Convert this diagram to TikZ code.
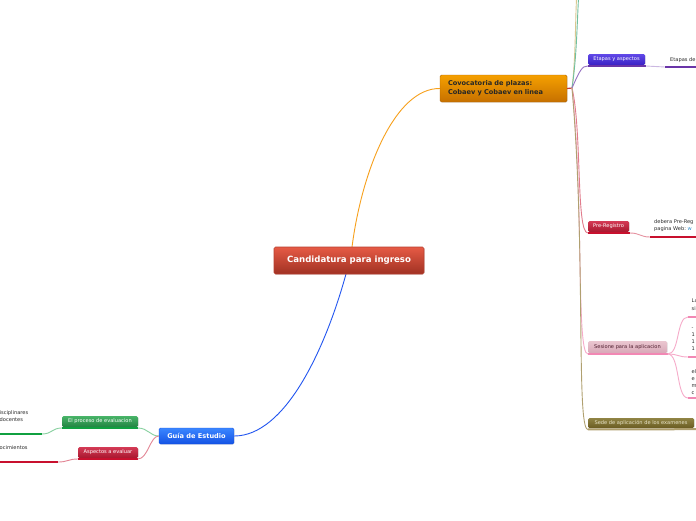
\documentclass[tikz,border=0pt]{standalone}
\usepackage{fontspec}
\setmainfont{DejaVu Sans}
\usetikzlibrary{shadows}
\definecolor{cenTop}{HTML}{E65A45}\definecolor{cenBot}{HTML}{A03223}\definecolor{cenBd}{HTML}{B84030}
\definecolor{convTop}{HTML}{F5A000}\definecolor{convBot}{HTML}{C67000}
\definecolor{etTop}{HTML}{6048E8}\definecolor{etBot}{HTML}{3A22C4}\definecolor{etLn}{HTML}{6A35A8}
\definecolor{prTop}{HTML}{D43A55}\definecolor{prBot}{HTML}{A8182F}\definecolor{prLn}{HTML}{C8102E}
\definecolor{seTop}{HTML}{EAC6D0}\definecolor{seBot}{HTML}{D8A8B8}\definecolor{seLn}{HTML}{F288B4}\definecolor{seTx}{HTML}{502030}
\definecolor{sdTop}{HTML}{908444}\definecolor{sdBot}{HTML}{6A5C22}\definecolor{sdLn}{HTML}{B0A070}\definecolor{sdTx}{HTML}{E8E4C8}
\definecolor{guTop}{HTML}{3A86FF}\definecolor{guBot}{HTML}{1452E4}
\definecolor{pcTop}{HTML}{48B468}\definecolor{pcBot}{HTML}{228442}\definecolor{pcLn}{HTML}{10A040}
\definecolor{orangeLn}{HTML}{F7A01C}\definecolor{blueLn}{HTML}{2255F0}
\definecolor{greenUp}{HTML}{70C0A0}\definecolor{yellowUp}{HTML}{D8C890}
\definecolor{txtGray}{HTML}{2A2A2A}\definecolor{webBlue}{HTML}{3090D0}
\tikzset{
  box/.style={rounded corners=1.5pt, inner sep=0pt, align=center, drop shadow={opacity=0.25, shadow xshift=0.6pt, shadow yshift=-0.6pt}},
  smallbox/.style={box, font=\fontsize{5.1}{6}\selectfont},
  uline/.style={line width=2pt},
  conn/.style={line width=0.9pt},
  leaf/.style={inner sep=0pt, anchor=north west, align=left, text=txtGray, font=\fontsize{5.1}{7.2}\selectfont}
}
\begin{document}
\begin{tikzpicture}[x=1pt,y=-1pt]
\useasboundingbox[fill=white] (0,0) rectangle (696,520);

% main connectors
\coordinate (cTop) at (352,247);
\coordinate (cBot) at (346,274);
\node[box, minimum width=127pt, minimum height=27pt, text width=111pt, align=left, top color=convTop, bottom color=convBot, draw=convBot!90!black, line width=0.4pt, font=\bfseries\fontsize{6.6}{9}\selectfont, text=black!85] (conv) at (503.5,88.5) {Covocatoria de plazas:\\Cobaev y Cobaev en linea};
\node[box, minimum width=75pt, minimum height=16pt, top color=guTop, bottom color=guBot, draw=guBot, line width=0.4pt, font=\bfseries\fontsize{6.6}{8}\selectfont, text=white] (guia) at (196.5,436) {Guía de Estudio};

\draw[conn, orangeLn] (cTop) .. controls (362,170) and (395,88) .. (conv.west);
\draw[conn, blueLn] (cBot) .. controls (325,350) and (285,436) .. (guia.east);

\node[box, minimum width=150pt, minimum height=27pt, top color=cenTop, bottom color=cenBot, draw=cenBd, line width=0.6pt, font=\bfseries\fontsize{8.6}{10}\selectfont, text=white] (center) at (349,260.5) {Candidatura para ingreso};

% right side children
\coordinate (hub) at (572,88);
\draw[line width=1.2pt, prLn!60!brown] (conv.east) -- (hub);
\coordinate (upA) at (577,-10);
\coordinate (upB) at (579,-10);
\draw[conn, yellowUp] (hub) .. controls (576,55) and (575,20) .. (upA);
\draw[conn, greenUp] (hub) .. controls (577,55) and (577,20) .. (upB);

\node[smallbox, minimum width=57pt, minimum height=11pt, top color=etTop, bottom color=etBot, text=white] (etapas) at (616.5,59.5) {Etapas y aspectos};
\draw[uline, etLn] (etapas.south west) ++(0,0.8) -- ++(58,0) coordinate (etEnd);
\draw[conn, etLn!70!white] (hub) .. controls (580,70) and (582,66) .. ([yshift=-0.8pt]etapas.south west);
\coordinate (etLeaf) at (665,67);
\draw[conn, etLn!35!white] (etEnd) -- (etLeaf);
\draw[uline, etLn] (etLeaf) -- (697,67);
\node[leaf] (etTxt) at (670,57) {Etapas de};

\node[smallbox, minimum width=41pt, minimum height=11pt, top color=prTop, bottom color=prBot, text=white] (pre) at (608.5,226.5) {Pre-Registro};
\draw[uline, prLn] (pre.south west) ++(0,0.8) -- ++(42,0) coordinate (prEnd);
\draw[conn, prLn!55!white] (hub) .. controls (582,130) and (576,233) .. ([yshift=-0.8pt]pre.south west);
\coordinate (prLeaf) at (650,237);
\draw[conn, prLn!45!white] (prEnd) .. controls (640,233) and (640,237) .. (prLeaf);
\draw[uline, prLn] (prLeaf) -- (697,237);
\node[leaf] (prTxt) at (654,219.5) {debera Pre-Reg\\pagina Web:\ \textcolor{webBlue}{w}};

\node[smallbox, minimum width=79pt, minimum height=12pt, top color=seTop, bottom color=seBot, text=seTx] (ses) at (627.5,347) {Sesione para la aplicacion};
\draw[uline, seLn] (ses.south west) ++(0,0.8) -- ++(80,0) coordinate (seEnd);
\draw[conn, seLn!70!white] (hub) .. controls (584,200) and (576,354) .. ([yshift=-0.8pt]ses.south west);
\coordinate (seA) at (688,317);
\coordinate (seB) at (688,357);
\coordinate (seC) at (688,398);
\draw[conn, seLn!70!white] (seEnd) .. controls (680,354) and (676,317) .. (seA);
\draw[conn, seLn!70!white] (seEnd) .. controls (678,354) and (678,357) .. (seB);
\draw[conn, seLn!70!white] (seEnd) .. controls (680,354) and (676,398) .. (seC);
\draw[uline, seLn] (seA) -- (697,317);
\draw[uline, seLn] (seB) -- (697,357);
\draw[uline, seLn] (seC) -- (697,398);
\node[leaf] (seTa) at (691.5,299) {La\\si};
\node[leaf] (seTb) at (691.5,327.5) {-\\1\\1\\1};
\node[leaf] (seTc) at (691.5,369) {el\\e\\m\\c};

\node[smallbox, minimum width=106pt, minimum height=10pt, top color=sdTop, bottom color=sdBot, text=sdTx] (sede) at (641,423) {Sede de aplicación de los examenes};
\draw[uline, sdLn] (sede.south west) ++(0,1.2) -- (697,429.2);
\draw[conn, sdLn] (hub) .. controls (586,250) and (576,429) .. ([yshift=-1.2pt]sede.south west);

% left side children
\node[smallbox, minimum width=76pt, minimum height=11pt, top color=pcTop, bottom color=pcBot, text=white] (proc) at (100,421.5) {El proceso de evaluacion};
\draw[uline, pcLn] (proc.south west) ++(0,0.8) -- ++(76,0) coordinate (pcEnd);
\draw[conn, pcLn!50!white] (guia.west) .. controls (150,436) and (148,428) .. (pcEnd);
\coordinate (pcLeaf) at (42,434);
\draw[conn, pcLn!50!white] ([yshift=-0.8pt]proc.south west) .. controls (52,428) and (52,434) .. (pcLeaf);
\draw[uline, pcLn] (pcLeaf) -- (-1,434);
\node[leaf] (pcTxt) at (-0.5,410.5) {isciplinares\\docentes};

\node[smallbox, minimum width=60pt, minimum height=11pt, top color=prTop, bottom color=prBot, text=white] (asp) at (108,452.5) {Aspectos a evaluar};
\draw[uline, prLn] (asp.south west) ++(0,0.8) -- ++(60,0) coordinate (asEnd);
\draw[conn, prLn!50!white] (guia.west) .. controls (150,436) and (148,459) .. (asEnd);
\coordinate (asLeaf) at (58,462);
\draw[conn, prLn!50!white] ([yshift=-0.8pt]asp.south west) .. controls (68,459) and (68,462) .. (asLeaf);
\draw[uline, prLn] (asLeaf) -- (-1,462);
\node[leaf] (asTxt) at (-0.5,445.5) {ocimientos};
\end{tikzpicture}
\end{document}
